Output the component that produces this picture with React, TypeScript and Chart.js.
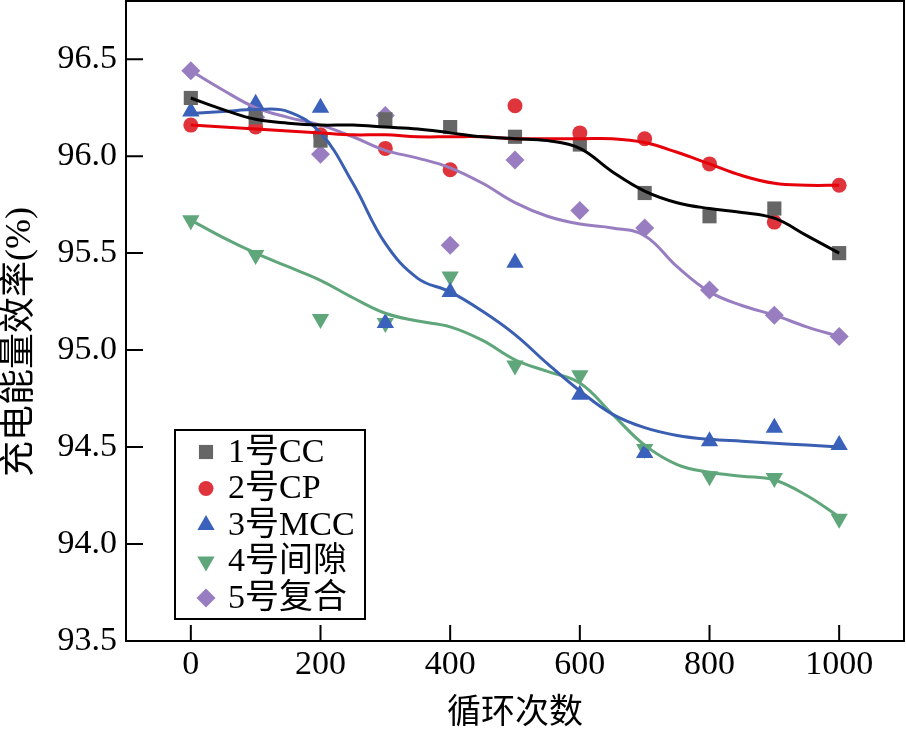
import React, { useEffect, useRef } from 'react';
import { Chart, registerables } from 'chart.js';
import { drawPoint } from 'chart.js/helpers';

Chart.register(...registerables);

// ---------- data ----------
const CYCLES = [0, 100, 200, 300, 400, 500, 600, 700, 800, 900, 1000];
const SERIES_NAMES = ['1号CC', '2号CP', '3号MCC', '4号间隙', '5号复合'];

const CC = [96.30, 96.20, 96.08, 96.19, 96.15, 96.10, 96.06, 95.81, 95.69, 95.73, 95.50];
const CP = [96.16, 96.15, 96.11, 96.04, 95.93, 96.26, 96.12, 96.09, 95.96, 95.66, 95.85];
const MCC = [96.23, 96.27, 96.25, 95.14, 95.30, 95.45, 94.77, 94.47, 94.53, 94.60, 94.51];
const GAP = [95.67, 95.49, 95.16, 95.14, 95.38, 94.92, 94.87, 94.49, 94.35, 94.34, 94.13];
const COMP = [96.44, 96.20, 96.01, 96.21, 95.54, 95.98, 95.72, 95.63, 95.31, 95.18, 95.07];

// fitted curves
const FIT_X = [0, 50, 100, 150, 200, 250, 300, 350, 400, 450, 500, 550, 600, 650, 700, 750, 800, 850, 900, 950, 1000];
const CC_FIT = [96.30, 96.24, 96.19, 96.17, 96.16, 96.16, 96.15, 96.14, 96.12, 96.10, 96.09, 96.08, 96.04, 95.92, 95.82, 95.76, 95.73, 95.71, 95.68, 95.59, 95.50];
const CP_FIT = [96.16, 96.15, 96.14, 96.13, 96.12, 96.11, 96.11, 96.10, 96.10, 96.10, 96.09, 96.09, 96.09, 96.09, 96.07, 96.02, 95.96, 95.90, 95.86, 95.85, 95.85];
const MCC_FIT = [96.22, 96.23, 96.24, 96.23, 96.12, 95.86, 95.55, 95.37, 95.30, 95.20, 95.08, 94.93, 94.79, 94.67, 94.60, 94.56, 94.54, 94.53, 94.52, 94.51, 94.50];
const GAP_FIT = [95.67, 95.58, 95.50, 95.43, 95.36, 95.27, 95.19, 95.15, 95.12, 95.05, 94.95, 94.89, 94.83, 94.67, 94.51, 94.41, 94.37, 94.35, 94.33, 94.25, 94.14];
const COMP_FIT = [96.44, 96.34, 96.25, 96.20, 96.16, 96.10, 96.03, 95.99, 95.94, 95.86, 95.76, 95.69, 95.65, 95.63, 95.59, 95.43, 95.30, 95.23, 95.18, 95.12, 95.07];

const X_TICKS = [0, 200, 400, 600, 800, 1000];
const Y_TICKS = [93.5, 94.0, 94.5, 95.0, 95.5, 96.0, 96.5];
const X_TITLE = '循环次数';
const Y_TITLE = '充电能量效率(%)';

// ---------- styles ----------
const FONT_FAMILY = "'Liberation Serif', 'Times New Roman', 'Noto Sans CJK SC', serif";
const FONT_SIZE = 34;
const MARKERS = [
  { pointStyle: 'rect', radius: 10, rotation: 0, color: 'rgb(102,102,102)' },
  { pointStyle: 'circle', radius: 7.5, rotation: 0, color: 'rgb(224,52,60)' },
  { pointStyle: 'triangle', radius: 10, rotation: 0, color: 'rgb(58,98,188)' },
  { pointStyle: 'triangle', radius: 10, rotation: 180, color: 'rgb(95,166,122)' },
  { pointStyle: 'rectRot', radius: 9.5, rotation: 0, color: 'rgb(152,126,192)' },
];
const LINE_COLORS = ['#000000', 'rgb(230,0,10)', 'rgb(58,95,178)', 'rgb(95,166,122)', 'rgb(152,126,192)'];

const SERIES = [CC, CP, MCC, GAP, COMP];
const FITS = [CC_FIT, CP_FIT, MCC_FIT, GAP_FIT, COMP_FIT];

const zeroPad = (s: any) => {
  s.paddingTop = 0;
  s.paddingBottom = 0;
  s.paddingLeft = 0;
  s.paddingRight = 0;
};

const framePlugin = {
  id: 'frameTicks',
  afterDraw(chart: any) {
    const { ctx, chartArea } = chart;
    const xs = chart.scales.x;
    const ys = chart.scales.y;
    ctx.save();
    ctx.strokeStyle = '#000';
    ctx.lineWidth = 2;
    ctx.strokeRect(chartArea.left, chartArea.top, chartArea.right - chartArea.left, chartArea.bottom - chartArea.top);
    ctx.beginPath();
    for (const v of X_TICKS) {
      const px = xs.getPixelForValue(v);
      ctx.moveTo(px, chartArea.bottom);
      ctx.lineTo(px, chartArea.bottom - 16);
    }
    for (const v of Y_TICKS) {
      const py = ys.getPixelForValue(v);
      ctx.moveTo(chartArea.left, py);
      ctx.lineTo(chartArea.left + 17, py);
    }
    ctx.stroke();

    // y-axis title
    ctx.fillStyle = '#000';
    ctx.font = `36px ${FONT_FAMILY}`;
    ctx.textAlign = 'center';
    ctx.textBaseline = 'middle';
    ctx.translate(21, (chartArea.top + chartArea.bottom) / 2 + 21);
    ctx.rotate(-Math.PI / 2);
    ctx.fillText(Y_TITLE, 0, 0);
    ctx.restore();

    // legend
    ctx.save();
    const lx = chartArea.left + 49;
    const ly = chartArea.top + 429;
    const lw = 190;
    const lh = 189;
    ctx.fillStyle = '#fff';
    ctx.fillRect(lx, ly, lw, lh);
    ctx.strokeStyle = '#000';
    ctx.lineWidth = 2;
    ctx.strokeRect(lx, ly, lw, lh);
    ctx.font = `${FONT_SIZE}px ${FONT_FAMILY}`;
    ctx.textAlign = 'left';
    ctx.textBaseline = 'middle';
    SERIES_NAMES.forEach((name, i) => {
      const cy = ly + 22 + i * 36.5;
      const m = MARKERS[i];
      ctx.fillStyle = m.color;
      ctx.strokeStyle = m.color;
      drawPoint(ctx, { pointStyle: m.pointStyle, rotation: m.rotation, radius: m.radius, borderWidth: 0 } as any, lx + 31, cy);
      ctx.fillStyle = '#000';
      ctx.fillText(name, lx + 53, cy + 1);
    });
    ctx.restore();
  },
};

export default function App() {
  const ref = useRef<HTMLCanvasElement | null>(null);
  useEffect(() => {
    if (!ref.current) return;
    const fitSets = FITS.map((f, i) => ({
      label: SERIES_NAMES[i] + ' fit',
      data: FIT_X.map((x, k) => ({ x, y: f[k] })),
      showLine: true,
      borderColor: LINE_COLORS[i],
      borderWidth: 3,
      pointRadius: 0,
      tension: 0.4,
      fill: false,
    }));
    const markerSets = SERIES.map((s, i) => ({
      label: SERIES_NAMES[i],
      data: CYCLES.map((x, k) => ({ x, y: s[k] })),
      showLine: false,
      pointStyle: MARKERS[i].pointStyle,
      pointRadius: MARKERS[i].radius,
      pointRotation: MARKERS[i].rotation,
      pointBackgroundColor: MARKERS[i].color,
      pointBorderColor: MARKERS[i].color,
      pointBorderWidth: 0,
    }));
    const font = { family: FONT_FAMILY, size: FONT_SIZE };
    const chart = new Chart(ref.current, {
      type: 'scatter',
      data: { datasets: [...fitSets, ...markerSets] as any },
      options: {
        animation: false,
        responsive: true,
        maintainAspectRatio: false,
        layout: { autoPadding: false, padding: { top: 1, right: 2, left: 0, bottom: 0 } },
        plugins: { legend: { display: false }, tooltip: { enabled: false } },
        scales: {
          x: {
            type: 'linear',
            min: -100,
            max: 1100,
            afterBuildTicks: (s: any) => { s.ticks = X_TICKS.map((v) => ({ value: v })); },
            afterFit: (s: any) => { s.height = 95; zeroPad(s); },
            grid: { display: false, drawTicks: false },
            border: { display: false },
            ticks: { padding: 4, color: '#000', font, maxRotation: 0, autoSkip: false, callback: (v: any) => String(v) },
            title: { display: true, text: X_TITLE, color: '#000', font, padding: { top: 0, bottom: 2 } },
          },
          y: {
            type: 'linear',
            min: 93.5,
            max: 96.8,
            afterBuildTicks: (s: any) => { s.ticks = Y_TICKS.map((v) => ({ value: v })); },
            afterFit: (s: any) => { s.width = 126; zeroPad(s); },
            grid: { display: false, drawTicks: false },
            border: { display: false },
            ticks: { padding: 9, color: '#000', font, autoSkip: false, callback: (v: any) => Number(v).toFixed(1) },
          },
        },
      } as any,
      plugins: [framePlugin],
    });
    return () => chart.destroy();
  }, []);
  return (
    <div style={{ position: 'fixed', left: 0, top: 0, width: 906, height: 736, background: '#fff' }}>
      <canvas ref={ref} />
    </div>
  );
}
